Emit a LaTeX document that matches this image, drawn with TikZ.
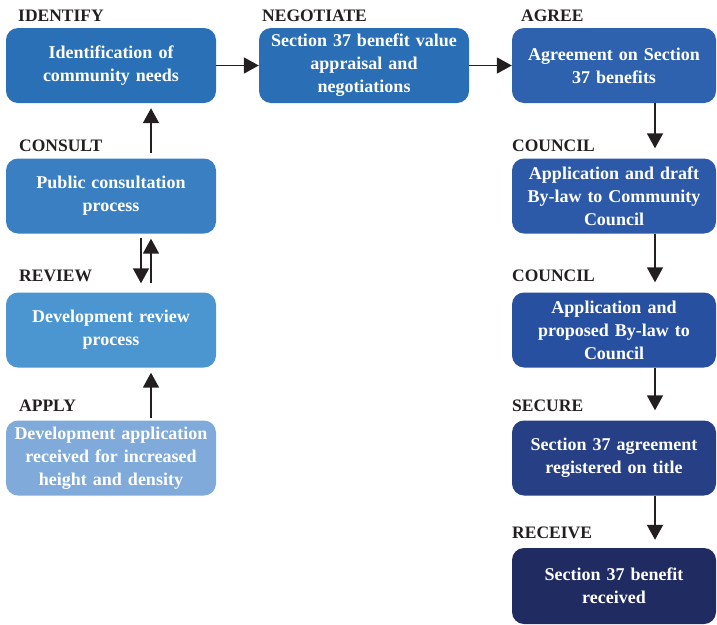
\documentclass[tikz,border=0pt]{standalone}
\usepackage{fontspec}
\setmainfont{Liberation Serif}
\usepackage{xcolor}
\usetikzlibrary{arrows.meta}

\definecolor{labelgray}{HTML}{231F20}
\definecolor{identblue}{HTML}{2A70B7}
\definecolor{negoblue}{HTML}{2A6EB6}
\definecolor{agreeblue}{HTML}{2E62AE}
\definecolor{consultblue}{HTML}{3B7FC3}
\definecolor{reviewblue}{HTML}{4B95D1}
\definecolor{applyblue}{HTML}{80AADA}
\definecolor{councilblue}{HTML}{2C59A8}
\definecolor{councilblueb}{HTML}{2850A1}
\definecolor{secureblue}{HTML}{263F85}
\definecolor{receiveblue}{HTML}{1F2B61}

\tikzset{
    stagebox/.style={rounded corners=12pt, inner sep=0pt, minimum height=75pt,
        text=white, align=center, font=\bfseries\fontsize{18}{23}\selectfont},
    leftbox/.style={stagebox, minimum width=210pt, text width=206pt},
    rightbox/.style={stagebox, minimum width=204pt, text width=200pt},
    stagelabel/.style={anchor=base west, inner sep=0pt, text=labelgray,
        font=\bfseries\fontsize{17.5}{20}\selectfont},
    flow/.style={-{Triangle[length=15pt,width=16pt]}, line width=1.8pt, draw=labelgray}
}

\begin{document}
\begin{tikzpicture}[x=1pt, y=-1pt]
    \useasboundingbox (0,0) rectangle (717,624);

    % Left column
    \node[leftbox, fill=identblue] (ident) at (111,65.5) {Identification of\\community needs};
    \node[leftbox, fill=consultblue] (consult) at (111,196) {Public consultation\\process};
    \node[leftbox, fill=reviewblue] (review) at (111,330) {Development review\\process};
    \node[leftbox, fill=applyblue] (apply) at (111,458) {Development application\\received for increased\\height and density};

    % Middle
    \node[leftbox, fill=negoblue] (nego) at (364,65.5) {Section 37 benefit value\\appraisal and\\negotiations};

    % Right column
    \node[rightbox, fill=agreeblue] (agree) at (614,65.5) {Agreement on Section\\37 benefits};
    \node[rightbox, fill=councilblue] (council1) at (614,196) {Application and draft\\By-law to Community\\Council};
    \node[rightbox, fill=councilblueb] (council2) at (614,330) {Application and\\proposed By-law to\\Council};
    \node[rightbox, fill=secureblue] (secure) at (614,458) {Section 37 agreement\\registered on title};
    \node[rightbox, fill=receiveblue, minimum height=76pt] (receive) at (614,586) {Section 37 benefit\\received};

    % Stage labels
    \node[stagelabel] (lidentify) at (18,21) {IDENTIFY};
    \node[stagelabel] (lnegotiate) at (262,21) {NEGOTIATE};
    \node[stagelabel] (lagree) at (521,21) {AGREE};
    \node[stagelabel] (lconsult) at (19,151) {CONSULT};
    \node[stagelabel] (lreview) at (19,281) {REVIEW};
    \node[stagelabel] (lapply) at (19,411) {APPLY};
    \node[stagelabel] (lcouncila) at (512,151) {COUNCIL};
    \node[stagelabel] (lcouncilb) at (512,281) {COUNCIL};
    \node[stagelabel] (lsecure) at (512,411) {SECURE};
    \node[stagelabel] (lreceive) at (512,538) {RECEIVE};

    % Arrows
    \draw[flow] (ident) -- (nego);
    \draw[flow] (nego) -- (agree);
    \draw[flow, shorten >=10pt] ([xshift=41pt]agree.south) -- ([xshift=41pt]council1.north);
    \draw[flow, shorten >=10pt] ([xshift=41pt]council1.south) -- ([xshift=41pt]council2.north);
    \draw[flow, shorten >=10pt] ([xshift=41pt]council2.south) -- ([xshift=41pt]secure.north);
    \draw[flow, shorten >=8pt] ([xshift=41pt]secure.south) -- ([xshift=41pt]receive.north);
    \draw[flow, shorten <=5pt, shorten >=5pt] ([xshift=40pt]consult.north) -- ([xshift=40pt]ident.south);
    \draw[flow, shorten <=4pt, shorten >=9pt] ([xshift=30pt]consult.south) -- ([xshift=30pt]review.north);
    \draw[flow, shorten <=9pt, shorten >=5pt] ([xshift=40pt]review.north) -- ([xshift=40pt]consult.south);
    \draw[flow, shorten <=2pt, shorten >=5pt] ([xshift=40pt]apply.north) -- ([xshift=40pt]review.south);
\end{tikzpicture}
\end{document}
